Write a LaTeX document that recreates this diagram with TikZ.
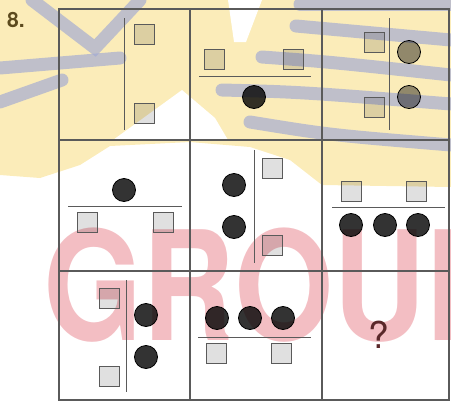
\documentclass[tikz,border=0pt]{standalone}
\usepackage{fontspec}
\newfontfamily\wmfont{TeX Gyre Heros}
\usepackage{xcolor}
\definecolor{LineGray}{RGB}{90,90,90}
\definecolor{WashYellow}{RGB}{251,236,185}
\definecolor{WashBlue}{RGB}{160,168,212}
\definecolor{WashPink}{RGB}{243,190,195}
\definecolor{NumBrown}{RGB}{92,74,30}
\definecolor{QMark}{RGB}{90,40,42}
\usepackage{tikz}
\tikzset{
  % Grid and split lines
  cellline/.style={draw=LineGray, line width=1.1pt},
  splitline/.style={draw=LineGray, line width=1pt},
  % Squares (see-through fill)
  sqbox/.style={
    rectangle, draw=LineGray, line width=0.9pt,
    fill=black, fill opacity=0.12,
    minimum size=20pt, inner sep=0pt
  },
  % Circles
  dotdark/.style={
    circle, draw=black, line width=0.8pt,
    fill=black, fill opacity=0.8,
    minimum size=23pt, inner sep=0pt
  },
  dotgray/.style={dotdark, fill opacity=0.42},
  % Watermark strokes
  band/.style={draw=WashBlue, line width=13pt, line cap=round, draw opacity=0.65},
}

\begin{document}
\begin{tikzpicture}[x=1pt, y=-1pt]
  \useasboundingbox (0,0) rectangle (451,402);

  %% Watermark
  \fill[WashYellow] (0,0) -- (451,0) -- (451,187) -- (322,185) -- (290,160) -- (250,147)
    -- (190,142) -- (110,146) -- (80,165) -- (40,178) -- (0,175) -- cycle;
  \fill[white] (113,140) -- (182,90) -- (215,118) -- (228,140) -- cycle;
  \fill[white] (228,0) -- (262,0) -- (246,42) -- (234,42) -- cycle;
  \draw[band] (0,68) -- (120,58);
  \draw[band] (0,102) -- (62,80);
  \draw[band] (32,0) -- (95,48) -- (140,0);
  \draw[band] (300,4) -- (451,4);
  \draw[band] (296,26) .. controls (340,30) .. (451,40);
  \draw[band] (262,57) .. controls (330,62) .. (451,75);
  \draw[band] (222,90) .. controls (300,92) .. (451,104);
  \draw[band] (250,122) .. controls (330,135) .. (451,145);
  \node[font=\wmfont\bfseries\fontsize{152}{152}\selectfont, text=WashPink,
    anchor=base west, inner sep=0pt, xscale=0.84] (mark) at (43,340) {GROUP};

  %% Number and grid
  \node[font=\wmfont\bfseries\fontsize{21}{21}\selectfont, text=NumBrown,
    anchor=base west, inner sep=0pt] (num) at (7,27) {8.};
  \draw[cellline] (59,9) rectangle (449,400);
  \draw[cellline] (190,9) -- (190,400);
  \draw[cellline] (322,9) -- (322,400);
  \draw[cellline] (59,140) -- (449,140);
  \draw[cellline] (59,271) -- (449,271);

  %% Row 1
  \draw[splitline] (124,18) -- (124,130);
  \node[sqbox] (sq1a) at (144,34) {};
  \node[sqbox] (sq1b) at (144,113) {};

  \draw[splitline] (199,76) -- (311,76);
  \node[sqbox] (sq2a) at (214,59) {};
  \node[sqbox] (sq2b) at (293,59) {};
  \node[dotdark] (dt2a) at (254,97) {};

  \draw[splitline] (389,18) -- (389,130);
  \node[sqbox] (sq3a) at (374,42) {};
  \node[sqbox] (sq3b) at (374,107) {};
  \node[dotgray] (dt3a) at (409,52) {};
  \node[dotgray] (dt3b) at (409,97) {};

  %% Row 2
  \node[dotdark] (dt4a) at (124,190) {};
  \draw[splitline] (68,206) -- (182,206);
  \node[sqbox] (sq4a) at (87,222) {};
  \node[sqbox] (sq4b) at (163,222) {};

  \draw[splitline] (254,150) -- (254,263);
  \node[dotdark] (dt5a) at (234,185) {};
  \node[dotdark] (dt5b) at (234,227) {};
  \node[sqbox] (sq5a) at (272,168) {};
  \node[sqbox] (sq5b) at (272,245) {};

  \node[sqbox] (sq6a) at (351,191) {};
  \node[sqbox] (sq6b) at (416,191) {};
  \draw[splitline] (332,207) -- (445,207);
  \node[dotdark] (dt6a) at (351,225) {};
  \node[dotdark] (dt6b) at (385,225) {};
  \node[dotdark] (dt6c) at (418,225) {};

  %% Row 3
  \draw[splitline] (126,280) -- (126,392);
  \node[sqbox] (sq7a) at (109,298) {};
  \node[sqbox] (sq7b) at (109,376) {};
  \node[dotdark] (dt7a) at (146,315) {};
  \node[dotdark] (dt7b) at (146,357) {};

  \node[dotdark] (dt8a) at (217,318) {};
  \node[dotdark] (dt8b) at (250,318) {};
  \node[dotdark] (dt8c) at (283,318) {};
  \draw[splitline] (198,337) -- (311,337);
  \node[sqbox] (sq8a) at (216,353) {};
  \node[sqbox] (sq8b) at (281,353) {};

  \node[font=\wmfont\fontsize{37}{37}\selectfont, text=QMark,
    anchor=base, inner sep=0pt] (ask) at (379,348) {?};
\end{tikzpicture}
\end{document}
